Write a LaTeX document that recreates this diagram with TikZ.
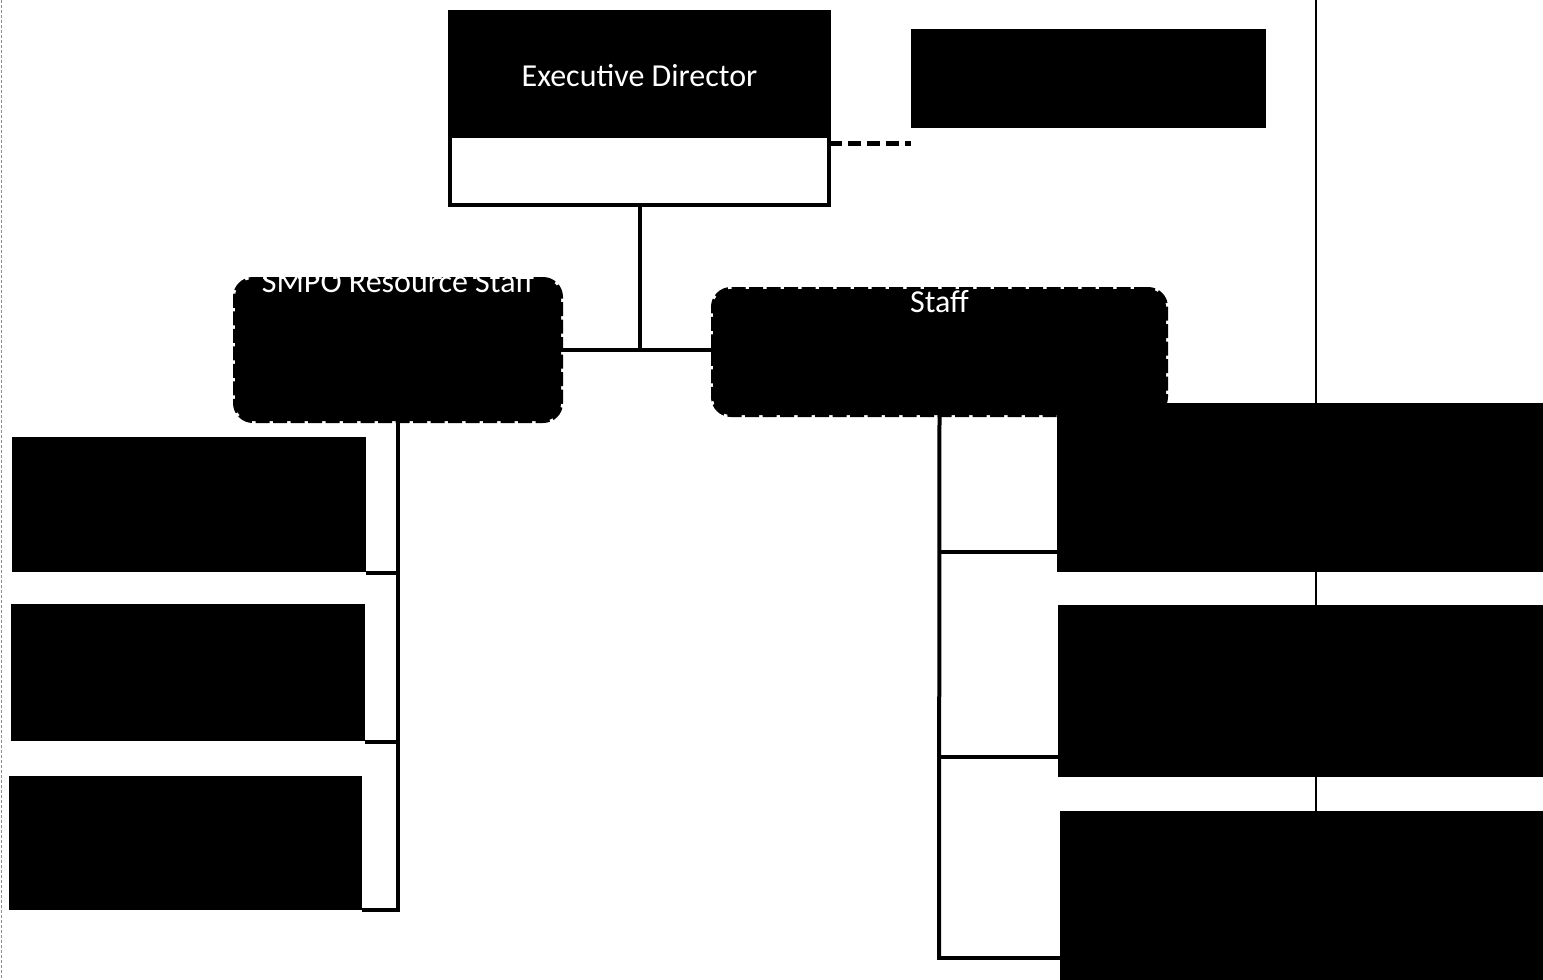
\documentclass[tikz,border=0pt]{standalone}
\usepackage{fontspec}
\setmainfont{Carlito}
\usetikzlibrary{calc}
\tikzset{
  blk/.style={rectangle, fill=black, inner sep=0pt, outer sep=0pt},
  rbox/.style={rectangle, rounded corners=18pt, fill=black, draw=black, line width=4pt, dash pattern=on 14pt off 3.5pt, inner sep=0pt, outer sep=0pt},
  edframe/.style={rectangle, draw=black, fill=white, line width=3.5pt, inner sep=0pt, outer sep=0pt},
  lbl/.style={text=white, font=\fontsize{32}{38}\selectfont, inner sep=0pt},
  conn/.style={draw=black, line width=4pt},
  dashconn/.style={draw=black, line width=5pt, dash pattern=on 13pt off 6pt},
  pageline/.style={draw=black, line width=1.3pt},
  scanline/.style={draw=black!45, line width=1.2pt, dash pattern=on 3pt off 2pt}
}
\begin{document}
\begin{tikzpicture}[x=1pt,y=-1pt]
\useasboundingbox (0,0) rectangle (1543,980);
\fill[white] (0,0) rectangle (1543,980);
% scan / page lines
\draw[pageline] (1316,0) -- (1316,980);
\draw[scanline] (1.5,0) -- (1.5,980);

% Executive Director
\node[edframe, minimum width=379pt, minimum height=193pt] (ed) at (639.5,108.5) {};
\node[blk, minimum width=377pt, minimum height=126pt] (edtop) at (639.5,75) {};
\node[lbl, anchor=base] (edlbl) at (639.5,86) {Executive Director};

% side box
\node[blk, minimum width=355pt, minimum height=99pt] (side) at (1088.5,78.5) {};
\draw[dashconn] ([yshift=-34.5pt]ed.east) -- ([yshift=-34.5pt]ed.east -| side.west);

% second level
\node[rbox, minimum width=326pt, minimum height=142pt] (smpo) at (398,350) {};
\node[lbl, anchor=base] (smpolbl) at (398,292) {SMPO Resource Staff};
\node[rbox, minimum width=453pt, minimum height=126pt] (staff) at (939.5,352) {};
\node[lbl, anchor=base] (stafflbl) at (939.5,312) {Staff};

\draw[conn] (ed.south) -- (ed.south |- 0,350) coordinate (jtop);
\draw[conn] (smpo.east |- jtop) -- (staff.west |- jtop);

% left column
\node[blk, minimum width=354pt, minimum height=135pt] (l1) at (189,504.5) {};
\node[blk, minimum width=354pt, minimum height=137pt] (l2) at (188,672.5) {};
\node[blk, minimum width=353pt, minimum height=134pt] (l3) at (185.5,843) {};
\draw[conn] (smpo.south) -- (smpo.south |- l3.south east) -- (l3.south east);
\draw[conn] ([yshift=-1pt]l1.south east) -- ([yshift=-1pt]l1.south east -| smpo.south);
\draw[conn] ([yshift=-1pt]l2.south east) -- ([yshift=-1pt]l2.south east -| smpo.south);

% right column
\coordinate (ja) at (939,552);
\coordinate (jb) at (939,757);
\coordinate (jc) at (939,958);
\draw[conn] (staff.south) -- (jc);
\node[blk, minimum width=486pt, minimum height=169pt] (ra) at (1300,487.5) {};
\node[blk, minimum width=485pt, minimum height=172pt] (rb) at (1300.5,691) {};
\node[blk, minimum width=483pt, minimum height=170pt] (rc) at (1301.5,896) {};
\draw[conn] (ja) -- (ja -| ra.west);
\draw[conn] (jb) -- (jb -| rb.west);
\draw[conn] ([xshift=-2pt]jc) -- (jc -| rc.west);
\end{tikzpicture}
\end{document}
